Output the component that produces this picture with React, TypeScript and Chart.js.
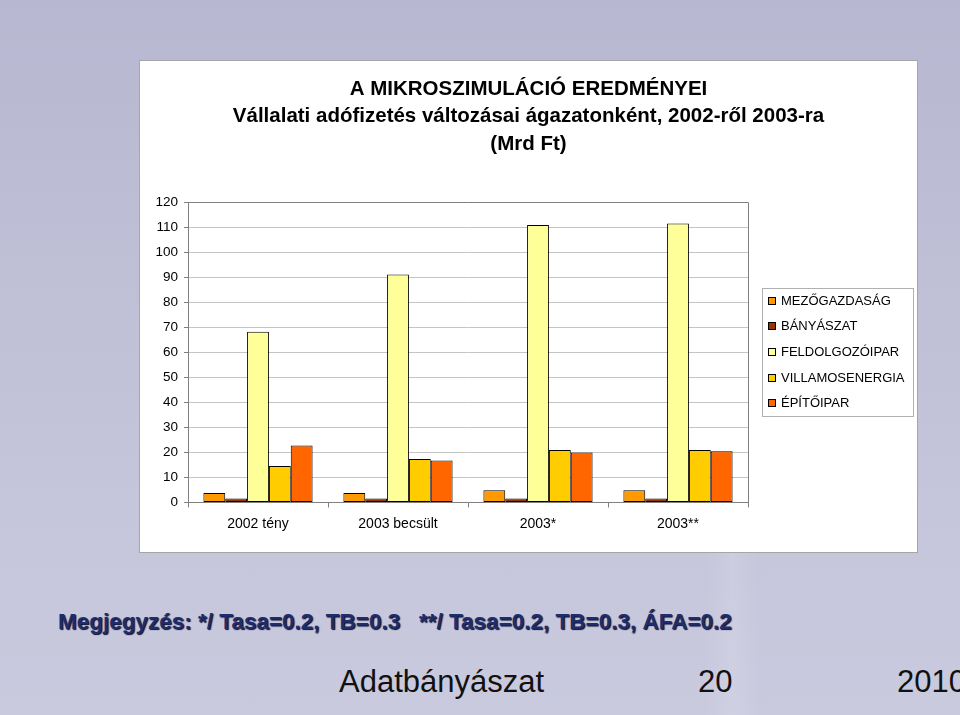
import React, { useEffect, useRef } from "react";
import { Chart, registerables } from "chart.js";

Chart.register(...registerables);

const FONT = '"Liberation Sans", Arial, Helvetica, sans-serif';

const categories = ["2002 tény", "2003 becsült", "2003*", "2003**"];
const seriesNames = ["MEZŐGAZDASÁG", "BÁNYÁSZAT", "FELDOLGOZÓIPAR", "VILLAMOSENERGIA", "ÉPÍTŐIPAR"];
const mezogazdasag = [3.8, 3.8, 4.9, 4.9];
const banyaszat = [1.6, 1.6, 1.6, 1.6];
const feldolgozoipar = [68.2, 91.0, 110.8, 111.4];
const villamosenergia = [14.6, 17.4, 21.0, 21.0];
const epitoipar = [22.8, 16.8, 20.0, 20.5];
const seriesColors = ["#FF9900", "#993300", "#FFFF99", "#FFCC00", "#FF6600"];
const yMin = 0;
const yMax = 120;
const yStep = 10;
const titleLines = [
  "A MIKROSZIMULÁCIÓ EREDMÉNYEI",
  "Vállalati adófizetés változásai ágazatonként, 2002-ről 2003-ra",
  "(Mrd Ft)",
];
const noteText = "Megjegyzés: */ Tasa=0.2, TB=0.3   **/ Tasa=0.2, TB=0.3, ÁFA=0.2";
const footerLeft = "Adatbányászat";
const footerMid = "20";
const footerRight = "2010";

const frameAndLegend = {
  id: "frameAndLegend",
  beforeDraw(chart: any) {
    const { ctx, width, height } = chart;
    ctx.save();
    ctx.fillStyle = "#ffffff";
    ctx.fillRect(0, 0, width, height);
    ctx.strokeStyle = "#a6a6a6";
    ctx.lineWidth = 1;
    ctx.strokeRect(0.5, 0.5, width - 1, height - 1);
    ctx.restore();
  },
  afterDraw(chart: any) {
    const { ctx, chartArea } = chart;
    ctx.save();
    // plot area border (top & right)
    ctx.strokeStyle = "#808080";
    ctx.lineWidth = 1;
    ctx.beginPath();
    ctx.moveTo(Math.round(chartArea.left) + 0.5, Math.round(chartArea.top) + 0.5);
    ctx.lineTo(Math.round(chartArea.right) + 0.5, Math.round(chartArea.top) + 0.5);
    ctx.lineTo(Math.round(chartArea.right) + 0.5, Math.round(chartArea.bottom) + 0.5);
    ctx.stroke();

    // legend
    const boxW = 151;
    const boxH = 128;
    const boxL = Math.round(chartArea.right) + 14;
    const cy = (chartArea.top + chartArea.bottom) / 2;
    const boxT = Math.round(cy - boxH / 2);
    ctx.strokeStyle = "#b0b0b0";
    ctx.strokeRect(boxL + 0.5, boxT + 0.5, boxW, boxH);
    ctx.font = `13px ${FONT}`;
    ctx.textBaseline = "middle";
    ctx.textAlign = "left";
    chart.data.datasets.forEach((ds: any, i: number) => {
      const y = boxT + 12.5 + i * 25.7;
      const sq = 8;
      ctx.fillStyle = ds.backgroundColor;
      ctx.fillRect(boxL + 6, Math.round(y - sq / 2), sq, sq);
      ctx.strokeStyle = "#000";
      ctx.strokeRect(boxL + 6.5, Math.round(y - sq / 2) + 0.5, sq - 1, sq - 1);
      ctx.fillStyle = "#000";
      ctx.fillText(ds.label, boxL + 19, y + 0.5);
    });
    ctx.restore();
  },
};

function ChartBox() {
  const ref = useRef<HTMLCanvasElement | null>(null);
  useEffect(() => {
    if (!ref.current) return;
    const seriesValues = [mezogazdasag, banyaszat, feldolgozoipar, villamosenergia, epitoipar];
    const chart = new Chart(ref.current, {
      type: "bar",
      data: {
        labels: categories,
        datasets: seriesNames.map((name, i) => ({
          label: name,
          data: seriesValues[i],
          backgroundColor: seriesColors[i],
          borderColor: "#000000",
          borderWidth: 1,
          borderSkipped: false,
          barPercentage: 1,
          categoryPercentage: 0.78,
          yAxisID: "y",
        })),
      },
      options: {
        animation: false,
        responsive: false,
        maintainAspectRatio: false,
        layout: { padding: { left: 0, right: 0, top: 0, bottom: 20.5 } },
        plugins: {
          legend: { display: false },
          tooltip: { enabled: false },
          title: {
            display: true,
            text: titleLines,
            color: "#000",
            font: { family: FONT, size: 20.5, weight: "bold", lineHeight: 1.3415 },
            padding: { top: 15.25, bottom: 44.25 },
          },
        },
        scales: {
          x: {
            offset: true,
            grid: {
              offset: true,
              drawOnChartArea: false,
              drawTicks: true,
              tickLength: 5,
              tickColor: "#808080",
            },
            border: { color: "#808080" },
            ticks: { color: "#000", font: { family: FONT, size: 14 }, padding: 8.5, maxRotation: 0 },
            afterFit(s: any) {
              s.height = 30;
            },
          },
          y: {
            type: "linear",
            position: "left",
            min: yMin,
            max: yMax,
            ticks: { stepSize: yStep, color: "#000", font: { family: FONT, size: 13.5 }, padding: 6 },
            grid: { color: "#c4c4c4", tickColor: "#808080", tickLength: 4 },
            border: { color: "#808080" },
            afterFit(s: any) {
              s.width = 49;
            },
          },
          yR: {
            type: "linear",
            position: "right",
            display: true,
            grid: { display: false, drawTicks: false },
            ticks: { display: false },
            border: { display: false },
            afterFit(s: any) {
              s.width = 170;
            },
          },
        },
      },
      plugins: [frameAndLegend],
    } as any);
    return () => chart.destroy();
  }, []);
  return (
    <canvas
      ref={ref}
      width={779}
      height={493}
      style={{ position: "absolute", left: 139, top: 60, width: 779, height: 493 }}
    />
  );
}

export default function App() {
  return (
    <div
      style={{
        position: "fixed",
        left: 0,
        top: 0,
        width: 960,
        height: 715,
        overflow: "hidden",
        fontFamily: FONT,
        background: "linear-gradient(180deg, #b7b7d1 0%, #c0c0d7 45%, #cacadf 100%)",
      }}
    >
      <div
        style={{
          position: "absolute",
          left: 705,
          top: 400,
          width: 55,
          height: 315,
          background: "linear-gradient(90deg, rgba(255,255,255,0) 0%, rgba(255,255,255,0.12) 50%, rgba(255,255,255,0) 100%)",
        }}
      />
      <ChartBox />
      <div
        style={{
          position: "absolute",
          left: 58,
          top: 611,
          fontSize: 22.5,
          lineHeight: "22.5px",
          fontWeight: "bold",
          color: "#1e2d6b",
          whiteSpace: "pre",
          textShadow: "1px 1px 1px #0b1030",
        }}
      >
        {noteText}
      </div>
      <div style={{ position: "absolute", left: 339, top: 666, fontSize: 31, lineHeight: "31px", color: "#111", whiteSpace: "pre" }}>
        {footerLeft}
      </div>
      <div style={{ position: "absolute", left: 698, top: 666, fontSize: 31, lineHeight: "31px", color: "#111", whiteSpace: "pre" }}>
        {footerMid}
      </div>
      <div style={{ position: "absolute", left: 897, top: 666, fontSize: 31, lineHeight: "31px", color: "#111", whiteSpace: "pre" }}>
        {footerRight}
      </div>
    </div>
  );
}
